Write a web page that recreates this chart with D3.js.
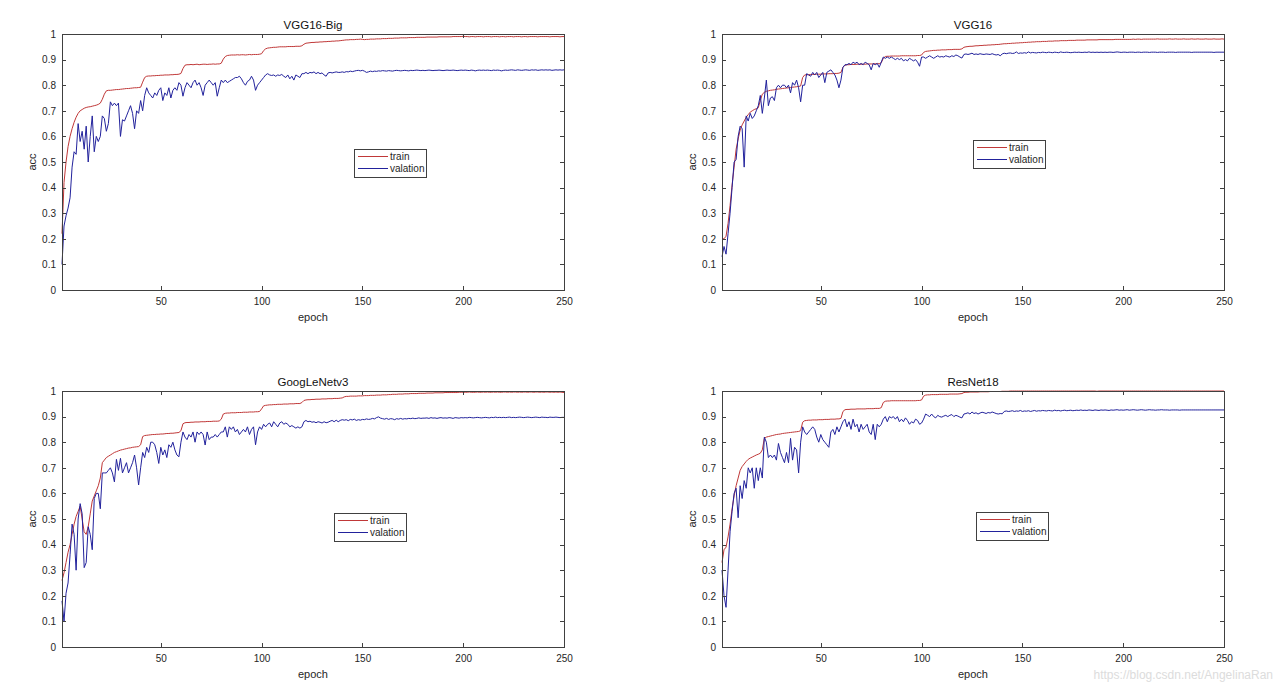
<!DOCTYPE html>
<html>
<head>
<meta charset="utf-8">
<script src="https://cdn.jsdelivr.net/npm/d3@7/dist/d3.min.js"></script>
<style>
  html, body { margin: 0; padding: 0; background: #fff; }
  svg { display: block; font-family: "Liberation Sans", Arial, sans-serif; }
</style>
</head>
<body>
<svg id="chart" width="1280" height="691"></svg>
<script>
// ---------------- DATA ----------------
const titles = ["VGG16-Big", "VGG16", "GoogLeNetv3", "ResNet18"];
const seriesNames = ["train", "valation"];
const xTicks = [50, 100, 150, 200, 250];
const yTicks = [0, 0.1, 0.2, 0.3, 0.4, 0.5, 0.6, 0.7, 0.8, 0.9, 1];
const xLabel = "epoch";
const yLabel = "acc";
const watermark = "https://blog.csdn.net/AngelinaRan";

const vgg16BigTrain = [
0.22,0.42,0.50,0.56,0.60,0.63,0.655,0.675,0.69,0.70,
0.705,0.71,0.713,0.715,0.716,0.718,0.72,0.722,0.725,0.73,
0.745,0.765,0.778,0.78,0.78,0.781,0.782,0.783,0.783,0.784,
0.785,0.786,0.787,0.787,0.788,0.789,0.79,0.79,0.791,0.792,
0.812,0.83,0.835,0.836,0.836,0.837,0.837,0.838,0.838,0.839,
0.839,0.84,0.84,0.84,0.841,0.841,0.842,0.842,0.843,0.846,
0.865,0.878,0.88,0.88,0.881,0.88,0.881,0.882,0.88,0.881,
0.882,0.882,0.881,0.882,0.882,0.883,0.882,0.883,0.883,0.886,
0.902,0.912,0.916,0.917,0.918,0.918,0.918,0.919,0.918,0.919,
0.919,0.918,0.919,0.92,0.919,0.92,0.92,0.92,0.921,0.923,
0.935,0.942,0.945,0.946,0.947,0.948,0.948,0.949,0.95,0.95,
0.95,0.95,0.951,0.951,0.951,0.951,0.952,0.952,0.952,0.954,
0.96,0.964,0.965,0.966,0.967,0.967,0.968,0.968,0.969,0.969,
0.97,0.97,0.971,0.971,0.972,0.972,0.973,0.973,0.974,0.975,
0.976,0.977,0.977,0.978,0.978,0.978,0.979,0.979,0.98,0.979,
0.978,0.979,0.979,0.98,0.98,0.98,0.981,0.981,0.981,0.982,
0.982,0.982,0.983,0.983,0.983,0.984,0.984,0.984,0.985,0.985,
0.985,0.985,0.986,0.986,0.986,0.986,0.987,0.987,0.987,0.987,
0.987,0.988,0.988,0.988,0.988,0.988,0.988,0.989,0.989,0.989,
0.989,0.989,0.989,0.989,0.99,0.99,0.99,0.99,0.99,0.991,
0.99,0.99,0.989,0.99,0.99,0.989,0.99,0.99,0.99,0.989,
0.99,0.99,0.99,0.989,0.99,0.99,0.99,0.989,0.99,0.99,
0.989,0.99,0.99,0.99,0.989,0.99,0.99,0.99,0.989,0.99,
0.99,0.989,0.99,0.99,0.99,0.99,0.989,0.99,0.99,0.99,
0.99,0.99,0.989,0.99,0.99,0.99,0.99,0.989,0.99,0.99
];
const vgg16BigVal = [
0.10,0.25,0.29,0.32,0.36,0.48,0.54,0.53,0.65,0.58,
0.62,0.55,0.64,0.50,0.60,0.68,0.54,0.60,0.58,0.60,
0.68,0.67,0.62,0.65,0.735,0.72,0.73,0.72,0.73,0.60,
0.665,0.66,0.68,0.70,0.72,0.69,0.63,0.70,0.69,0.74,
0.70,0.76,0.79,0.77,0.76,0.75,0.77,0.76,0.78,0.79,
0.74,0.77,0.76,0.79,0.75,0.78,0.79,0.78,0.81,0.80,
0.757,0.79,0.81,0.80,0.79,0.81,0.82,0.80,0.81,0.79,
0.76,0.80,0.81,0.82,0.81,0.80,0.81,0.757,0.79,0.82,
0.81,0.82,0.81,0.815,0.82,0.825,0.83,0.83,0.835,0.825,
0.81,0.80,0.815,0.82,0.835,0.82,0.78,0.80,0.81,0.82,
0.83,0.84,0.845,0.84,0.838,0.84,0.835,0.84,0.838,0.842,
0.835,0.83,0.84,0.825,0.835,0.82,0.84,0.835,0.83,0.845,
0.845,0.85,0.845,0.85,0.848,0.852,0.845,0.85,0.845,0.848,
0.84,0.835,0.848,0.85,0.848,0.85,0.852,0.85,0.85,0.852,
0.85,0.853,0.852,0.855,0.853,0.855,0.857,0.858,0.856,0.858,
0.855,0.85,0.852,0.855,0.853,0.855,0.854,0.856,0.855,0.857,
0.856,0.855,0.857,0.856,0.855,0.857,0.858,0.857,0.856,0.857,
0.858,0.857,0.856,0.858,0.857,0.858,0.859,0.858,0.857,0.858,
0.857,0.858,0.859,0.858,0.857,0.858,0.858,0.859,0.858,0.857,
0.858,0.859,0.858,0.858,0.859,0.858,0.857,0.858,0.859,0.858,
0.859,0.858,0.857,0.859,0.858,0.856,0.858,0.859,0.858,0.859,
0.858,0.859,0.858,0.857,0.859,0.858,0.859,0.858,0.856,0.858,
0.859,0.858,0.859,0.86,0.859,0.858,0.86,0.859,0.858,0.859,
0.86,0.859,0.858,0.86,0.859,0.86,0.858,0.859,0.86,0.859,
0.86,0.859,0.86,0.858,0.859,0.86,0.859,0.86,0.859,0.86
];
const vgg16Train = [
0.20,0.20,0.21,0.26,0.33,0.41,0.48,0.55,0.59,0.625,
0.645,0.66,0.675,0.685,0.695,0.70,0.705,0.708,0.712,0.74,
0.765,0.772,0.776,0.778,0.78,0.781,0.782,0.784,0.785,0.786,
0.787,0.788,0.789,0.79,0.791,0.792,0.793,0.794,0.795,0.797,
0.83,0.84,0.841,0.841,0.842,0.842,0.842,0.843,0.843,0.843,
0.844,0.844,0.844,0.845,0.845,0.845,0.846,0.846,0.847,0.85,
0.87,0.878,0.88,0.88,0.881,0.881,0.881,0.882,0.882,0.882,
0.882,0.882,0.883,0.883,0.883,0.883,0.884,0.884,0.884,0.888,
0.905,0.912,0.913,0.913,0.914,0.914,0.914,0.914,0.914,0.915,
0.915,0.915,0.915,0.915,0.915,0.915,0.915,0.916,0.916,0.918,
0.928,0.932,0.933,0.934,0.935,0.936,0.936,0.937,0.937,0.938,
0.938,0.938,0.939,0.939,0.939,0.94,0.94,0.94,0.94,0.942,
0.948,0.95,0.951,0.952,0.952,0.953,0.954,0.954,0.955,0.955,
0.956,0.956,0.957,0.957,0.958,0.958,0.959,0.959,0.96,0.961,
0.962,0.962,0.963,0.963,0.964,0.964,0.965,0.965,0.966,0.966,
0.967,0.967,0.968,0.968,0.969,0.969,0.97,0.97,0.97,0.971,
0.971,0.971,0.972,0.972,0.972,0.973,0.973,0.973,0.974,0.974,
0.974,0.974,0.975,0.975,0.975,0.975,0.976,0.976,0.976,0.976,
0.976,0.977,0.977,0.977,0.977,0.977,0.977,0.978,0.978,0.978,
0.978,0.978,0.978,0.978,0.978,0.979,0.979,0.979,0.979,0.979,
0.979,0.979,0.979,0.979,0.98,0.979,0.98,0.98,0.979,0.98,
0.98,0.98,0.98,0.98,0.98,0.98,0.981,0.98,0.98,0.98,
0.98,0.98,0.981,0.98,0.98,0.981,0.98,0.98,0.98,0.981,
0.98,0.98,0.98,0.981,0.98,0.98,0.981,0.98,0.98,0.98,
0.981,0.98,0.98,0.98,0.981,0.98,0.98,0.98,0.981,0.98
];
const vgg16Val = [
0.13,0.17,0.14,0.22,0.30,0.40,0.50,0.51,0.60,0.64,
0.63,0.48,0.68,0.66,0.69,0.67,0.68,0.70,0.72,0.76,
0.69,0.75,0.82,0.72,0.75,0.755,0.74,0.79,0.80,0.79,
0.80,0.80,0.79,0.80,0.77,0.81,0.80,0.82,0.79,0.735,
0.80,0.80,0.845,0.84,0.835,0.85,0.84,0.85,0.83,0.84,
0.85,0.81,0.85,0.855,0.86,0.85,0.84,0.82,0.79,0.82,
0.87,0.88,0.88,0.885,0.88,0.89,0.885,0.89,0.88,0.885,
0.88,0.89,0.885,0.88,0.86,0.885,0.88,0.885,0.87,0.89,
0.91,0.905,0.91,0.905,0.91,0.905,0.90,0.905,0.90,0.905,
0.895,0.90,0.895,0.905,0.90,0.895,0.90,0.89,0.874,0.91,
0.91,0.905,0.91,0.915,0.91,0.905,0.91,0.915,0.91,0.912,
0.91,0.915,0.912,0.91,0.915,0.912,0.918,0.915,0.91,0.906,
0.92,0.922,0.92,0.922,0.925,0.92,0.922,0.92,0.923,0.921,
0.92,0.922,0.921,0.92,0.923,0.92,0.918,0.92,0.915,0.922,
0.925,0.923,0.925,0.926,0.924,0.925,0.93,0.924,0.926,0.925,
0.927,0.925,0.93,0.926,0.928,0.927,0.926,0.928,0.927,0.929,
0.928,0.927,0.929,0.928,0.927,0.929,0.928,0.927,0.93,0.928,
0.928,0.929,0.928,0.927,0.928,0.929,0.928,0.929,0.928,0.928,
0.929,0.928,0.93,0.928,0.929,0.928,0.929,0.928,0.929,0.928,
0.929,0.928,0.929,0.929,0.928,0.929,0.93,0.929,0.928,0.929,
0.929,0.928,0.929,0.929,0.929,0.928,0.929,0.929,0.928,0.929,
0.929,0.929,0.928,0.929,0.929,0.929,0.928,0.929,0.929,0.929,
0.928,0.929,0.929,0.929,0.929,0.928,0.929,0.929,0.929,0.929,
0.929,0.929,0.929,0.928,0.929,0.929,0.929,0.929,0.929,0.929,
0.929,0.929,0.929,0.929,0.928,0.929,0.929,0.929,0.929,0.929
];
const googleTrain = [
0.26,0.29,0.33,0.37,0.40,0.44,0.48,0.51,0.53,0.55,
0.50,0.45,0.44,0.47,0.52,0.57,0.59,0.61,0.63,0.66,
0.72,0.73,0.74,0.745,0.75,0.755,0.76,0.763,0.766,0.769,
0.771,0.773,0.775,0.777,0.778,0.78,0.781,0.782,0.783,0.79,
0.822,0.826,0.827,0.828,0.829,0.83,0.83,0.831,0.831,0.832,
0.832,0.833,0.834,0.834,0.835,0.835,0.836,0.837,0.838,0.845,
0.872,0.876,0.877,0.877,0.878,0.878,0.879,0.879,0.879,0.88,
0.88,0.88,0.881,0.881,0.881,0.882,0.882,0.882,0.883,0.89,
0.91,0.913,0.914,0.914,0.915,0.915,0.915,0.916,0.916,0.916,
0.917,0.917,0.917,0.918,0.918,0.918,0.919,0.919,0.92,0.93,
0.942,0.944,0.945,0.946,0.946,0.947,0.947,0.948,0.948,0.948,
0.949,0.949,0.949,0.95,0.95,0.95,0.951,0.951,0.951,0.955,
0.963,0.965,0.966,0.966,0.967,0.967,0.968,0.968,0.968,0.969,
0.969,0.969,0.97,0.97,0.97,0.971,0.971,0.971,0.972,0.973,
0.977,0.979,0.979,0.98,0.98,0.98,0.98,0.981,0.981,0.981,
0.982,0.982,0.982,0.983,0.983,0.983,0.984,0.984,0.984,0.985,
0.985,0.985,0.986,0.986,0.987,0.987,0.987,0.988,0.988,0.988,
0.989,0.989,0.989,0.99,0.99,0.99,0.99,0.991,0.991,0.991,
0.991,0.992,0.992,0.992,0.992,0.993,0.993,0.993,0.993,0.993,
0.994,0.994,0.994,0.994,0.994,0.994,0.994,0.995,0.995,0.995,
0.995,0.995,0.996,0.995,0.995,0.995,0.996,0.995,0.995,0.996,
0.995,0.996,0.995,0.995,0.996,0.995,0.996,0.995,0.995,0.996,
0.996,0.995,0.996,0.995,0.996,0.996,0.995,0.996,0.995,0.996,
0.996,0.995,0.996,0.996,0.995,0.996,0.996,0.995,0.996,0.995,
0.996,0.996,0.995,0.996,0.995,0.996,0.995,0.996,0.995,0.994
];
const googleVal = [
0.18,0.10,0.21,0.25,0.36,0.48,0.44,0.30,0.50,0.56,
0.52,0.31,0.33,0.47,0.44,0.38,0.58,0.60,0.60,0.54,
0.68,0.68,0.68,0.69,0.70,0.68,0.645,0.733,0.69,0.737,
0.68,0.70,0.72,0.68,0.70,0.72,0.75,0.70,0.633,0.70,
0.76,0.74,0.78,0.76,0.80,0.80,0.79,0.76,0.717,0.78,
0.75,0.77,0.74,0.79,0.78,0.80,0.77,0.75,0.743,0.80,
0.84,0.82,0.81,0.83,0.82,0.84,0.80,0.84,0.83,0.84,
0.83,0.789,0.84,0.81,0.82,0.82,0.83,0.82,0.83,0.84,
0.84,0.86,0.82,0.86,0.85,0.86,0.84,0.85,0.83,0.84,
0.85,0.84,0.86,0.83,0.85,0.86,0.79,0.84,0.86,0.85,
0.87,0.86,0.87,0.875,0.86,0.88,0.87,0.86,0.875,0.88,
0.87,0.875,0.87,0.86,0.865,0.86,0.855,0.86,0.855,0.86,
0.88,0.885,0.88,0.882,0.878,0.88,0.876,0.88,0.878,0.875,
0.88,0.876,0.878,0.882,0.885,0.88,0.886,0.88,0.885,0.888,
0.886,0.888,0.884,0.889,0.887,0.89,0.885,0.888,0.886,0.889,
0.888,0.891,0.889,0.89,0.893,0.891,0.896,0.899,0.894,0.892,
0.89,0.893,0.889,0.892,0.891,0.888,0.892,0.89,0.893,0.89,
0.892,0.891,0.893,0.892,0.894,0.892,0.893,0.895,0.893,0.894,
0.894,0.895,0.893,0.896,0.894,0.895,0.893,0.895,0.896,0.894,
0.895,0.894,0.896,0.895,0.893,0.896,0.895,0.894,0.896,0.895,
0.896,0.895,0.897,0.896,0.895,0.896,0.897,0.896,0.895,0.896,
0.897,0.896,0.895,0.897,0.896,0.898,0.896,0.897,0.896,0.897,
0.896,0.897,0.898,0.896,0.897,0.896,0.897,0.898,0.897,0.896,
0.897,0.898,0.897,0.896,0.897,0.898,0.897,0.896,0.898,0.897,
0.897,0.896,0.898,0.897,0.897,0.898,0.897,0.896,0.897,0.897
];
const resnetTrain = [
0.33,0.38,0.39,0.43,0.48,0.54,0.59,0.63,0.66,0.69,
0.705,0.715,0.725,0.733,0.738,0.742,0.746,0.75,0.753,0.757,
0.77,0.815,0.82,0.822,0.824,0.826,0.828,0.83,0.831,0.832,
0.834,0.835,0.836,0.837,0.838,0.839,0.84,0.841,0.842,0.845,
0.878,0.884,0.885,0.886,0.886,0.887,0.887,0.887,0.888,0.888,
0.888,0.889,0.889,0.889,0.89,0.89,0.89,0.891,0.891,0.893,
0.92,0.927,0.928,0.928,0.929,0.929,0.929,0.93,0.93,0.93,
0.93,0.93,0.931,0.931,0.931,0.931,0.932,0.932,0.932,0.935,
0.955,0.96,0.961,0.961,0.962,0.962,0.962,0.962,0.962,0.962,
0.962,0.962,0.962,0.962,0.962,0.962,0.962,0.963,0.963,0.965,
0.98,0.984,0.985,0.985,0.986,0.986,0.986,0.986,0.987,0.987,
0.987,0.987,0.987,0.988,0.988,0.988,0.988,0.988,0.989,0.99,
0.994,0.995,0.995,0.996,0.996,0.996,0.996,0.996,0.997,0.997,
0.997,0.997,0.997,0.998,0.998,0.998,0.998,0.998,0.998,0.999,
0.999,0.999,0.999,1,1,1,1,1,1,1,
1,1,1,1,1,1,1,1,1,1,
1,1,1,1,1,1,1,1,1,1,
1,1,1,1,1,1,1,1,1,1,
1,1,1,1,1,1,0.999,1,1,1,
1,1,1,1,1,1,1,1,1,1,
1,1,1,1,1,1,1,1,1,1,
1,1,1,1,1,1,1,1,1,1,
1,1,1,1,1,1,1,1,1,1,
1,1,1,1,1,1,1,1,1,1,
1,1,1,1,1,1,1,1,1,1
];
const resnetVal = [
0.30,0.20,0.155,0.30,0.45,0.53,0.60,0.62,0.505,0.63,
0.58,0.65,0.62,0.70,0.68,0.70,0.62,0.70,0.65,0.70,
0.66,0.82,0.80,0.74,0.75,0.74,0.75,0.73,0.795,0.76,
0.74,0.72,0.76,0.72,0.815,0.73,0.78,0.77,0.68,0.80,
0.86,0.84,0.83,0.84,0.85,0.86,0.85,0.82,0.80,0.83,
0.81,0.80,0.79,0.78,0.84,0.85,0.83,0.86,0.84,0.86,
0.88,0.89,0.86,0.88,0.85,0.89,0.86,0.87,0.84,0.87,
0.85,0.86,0.87,0.84,0.83,0.87,0.81,0.87,0.86,0.87,
0.89,0.90,0.88,0.90,0.895,0.90,0.89,0.90,0.88,0.89,
0.88,0.895,0.885,0.87,0.88,0.875,0.89,0.885,0.87,0.875,
0.89,0.91,0.905,0.90,0.91,0.90,0.895,0.905,0.90,0.898,
0.902,0.905,0.90,0.905,0.908,0.90,0.905,0.902,0.898,0.895,
0.91,0.912,0.915,0.91,0.918,0.912,0.915,0.91,0.914,0.917,
0.915,0.912,0.916,0.914,0.918,0.915,0.912,0.91,0.912,0.911,
0.92,0.922,0.92,0.921,0.923,0.92,0.922,0.921,0.924,0.92,
0.922,0.921,0.923,0.92,0.922,0.924,0.921,0.923,0.922,0.924,
0.923,0.922,0.924,0.923,0.922,0.925,0.923,0.924,0.922,0.924,
0.925,0.923,0.924,0.925,0.923,0.924,0.925,0.924,0.926,0.924,
0.925,0.924,0.926,0.925,0.924,0.926,0.925,0.924,0.926,0.925,
0.926,0.925,0.924,0.926,0.925,0.926,0.927,0.925,0.926,0.925,
0.926,0.927,0.925,0.926,0.927,0.926,0.925,0.926,0.927,0.926,
0.925,0.926,0.927,0.926,0.926,0.925,0.926,0.926,0.927,0.926,
0.926,0.926,0.925,0.926,0.926,0.926,0.926,0.925,0.926,0.926,
0.926,0.926,0.926,0.926,0.926,0.926,0.926,0.926,0.926,0.926,
0.926,0.926,0.926,0.926,0.926,0.926,0.926,0.926,0.926,0.926
];

const trainSeries = [vgg16BigTrain, vgg16Train, googleTrain, resnetTrain];
const valSeries = [vgg16BigVal, vgg16Val, googleVal, resnetVal];

// ---------------- LAYOUT ----------------
const panelOrigins = [[62, 34], [722, 34], [62, 391], [722, 391]];
const plotW = 502, plotH = 256;
const legendOffsets = [[292, 115], [251, 106], [272, 122], [254, 121]];
const colors = { train: "#c03838", val: "#22229c", axis: "#404040", text: "#262626" };

const svg = d3.select("#chart");
svg.append("rect").attr("width", 1280).attr("height", 691).attr("fill", "#fff");

const x = d3.scaleLinear().domain([1, 250]).range([0, plotW]);
const y = d3.scaleLinear().domain([0, 1]).range([plotH, 0]);
const yFmt = d => (d === 0 ? "0" : d === 1 ? "1" : d3.format(".1f")(d));

titles.forEach((title, i) => {
  const [ox, oy] = panelOrigins[i];
  const g = svg.append("g").attr("transform", `translate(${ox},${oy})`);

  const styleAxis = sel => {
    sel.selectAll(".domain").attr("stroke", colors.axis).attr("stroke-width", 1).attr("shape-rendering", "crispEdges");
    sel.selectAll(".tick line").attr("stroke", colors.axis).attr("shape-rendering", "crispEdges");
    sel.selectAll(".tick text").attr("fill", colors.text).style("font-size", "10px")
      .style("font-family", '"Liberation Sans", Arial, sans-serif');
  };

  // data lines
  const lineGen = d3.line().x((d, j) => x(j + 1)).y(d => y(d));
  g.append("path").datum(trainSeries[i]).attr("d", lineGen)
    .attr("fill", "none").attr("stroke", colors.train).attr("stroke-width", 1);
  g.append("path").datum(valSeries[i]).attr("d", lineGen)
    .attr("fill", "none").attr("stroke", colors.val).attr("stroke-width", 1);

  // box axes with inward ticks
  g.append("g").attr("transform", `translate(0,${plotH})`)
    .call(d3.axisBottom(x).tickValues(xTicks).tickSizeInner(-4).tickSizeOuter(0).tickPadding(8))
    .call(styleAxis);
  g.append("g")
    .call(d3.axisTop(x).tickValues(xTicks).tickSizeInner(-4).tickSizeOuter(0).tickFormat(""))
    .call(styleAxis);
  g.append("g")
    .call(d3.axisLeft(y).tickValues(yTicks).tickSizeInner(-4).tickSizeOuter(0).tickPadding(6).tickFormat(yFmt))
    .call(styleAxis);
  g.append("g").attr("transform", `translate(${plotW},0)`)
    .call(d3.axisRight(y).tickValues(yTicks).tickSizeInner(-4).tickSizeOuter(0).tickFormat(""))
    .call(styleAxis);

  // title and axis labels
  g.append("text").attr("x", plotW / 2).attr("y", -5).attr("text-anchor", "middle")
    .attr("fill", "#111").style("font-size", "11.5px").text(title);
  g.append("text").attr("x", plotW / 2).attr("y", plotH + 31).attr("text-anchor", "middle")
    .attr("fill", colors.text).style("font-size", "11px").text(xLabel);
  g.append("text").attr("transform", `translate(-26,${plotH / 2}) rotate(-90)`)
    .attr("text-anchor", "middle").attr("fill", colors.text).style("font-size", "11px").text(yLabel);

  // legend
  const [lx, ly] = legendOffsets[i];
  const lg = g.append("g").attr("transform", `translate(${lx},${ly})`);
  lg.append("rect").attr("x", 0.5).attr("y", 0.5).attr("width", 72).attr("height", 28)
    .attr("fill", "#fff").attr("stroke", colors.axis).attr("stroke-width", 1);
  [colors.train, colors.val].forEach((c, k) => {
    const yy = 7.5 + k * 12;
    lg.append("line").attr("x1", 4).attr("x2", 34).attr("y1", yy).attr("y2", yy)
      .attr("stroke", c).attr("stroke-width", 1);
    lg.append("text").attr("x", 36).attr("y", yy + 3.5).attr("fill", colors.text)
      .style("font-size", "10px").text(seriesNames[k]);
  });
});

svg.append("text").attr("x", 1273).attr("y", 679).attr("text-anchor", "end")
  .attr("fill", "#dcdcdc").style("font-size", "12px").text(watermark);
</script>
</body>
</html>
